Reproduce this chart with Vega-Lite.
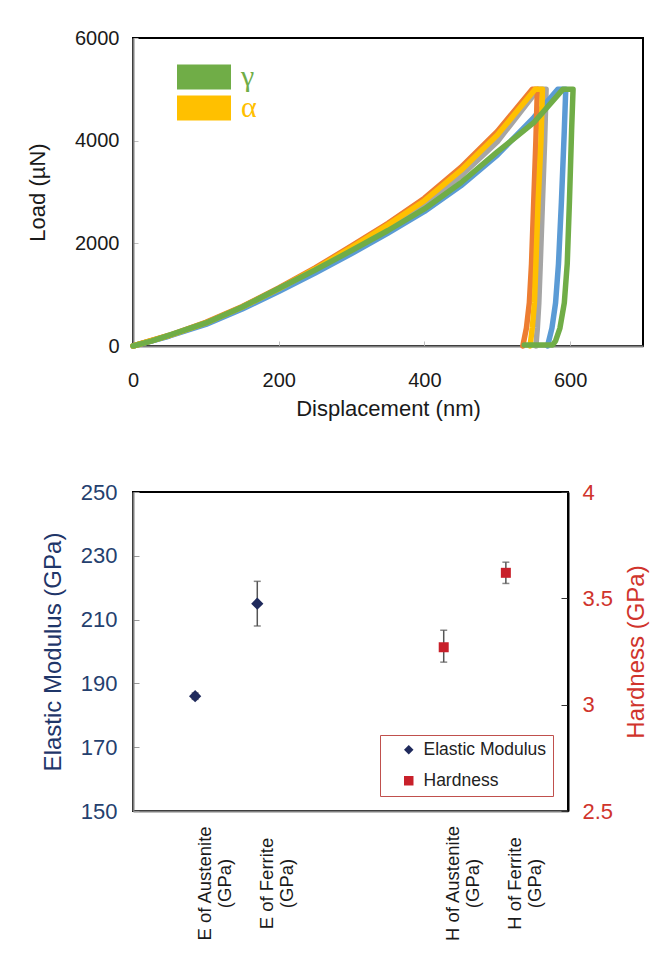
{
  "$schema": "https://vega.github.io/schema/vega-lite/v6.json",
  "padding": {"left": 25, "top": 27, "right": 0, "bottom": 0},
  "background": "white",
  "config": {
    "font": "Liberation Sans",
    "view": {"stroke": "#000", "strokeWidth": 2},
    "axis": {"grid": false, "labelColor": "#1a1a1a", "titleColor": "#1a1a1a", "titleFontWeight": "normal"}
  },
  "columns": 1,
  "align": "none",
  "spacing": 60,
  "resolve": {"scale": {"color": "independent", "shape": "independent"}, "legend": {"color": "independent", "shape": "independent"}},
  "datasets": {
    "curves": [
      {"s": "α3", "i": 0, "d": 0, "p": 0}, {"s": "α3", "i": 1, "d": 50, "p": 200}, {"s": "α3", "i": 2, "d": 100, "p": 440}, {"s": "α3", "i": 3, "d": 150, "p": 745}, {"s": "α3", "i": 4, "d": 200, "p": 1095}, {"s": "α3", "i": 5, "d": 250, "p": 1470}, {"s": "α3", "i": 6, "d": 300, "p": 1880}, {"s": "α3", "i": 7, "d": 350, "p": 2300}, {"s": "α3", "i": 8, "d": 400, "p": 2750}, {"s": "α3", "i": 9, "d": 450, "p": 3310}, {"s": "α3", "i": 10, "d": 500, "p": 3980}, {"s": "α3", "i": 11, "d": 556, "p": 5000}, {"s": "α3", "i": 12, "d": 567, "p": 5000}, {"s": "α3", "i": 13, "d": 565, "p": 4000}, {"s": "α3", "i": 14, "d": 562, "p": 2800}, {"s": "α3", "i": 15, "d": 559, "p": 1600}, {"s": "α3", "i": 16, "d": 557, "p": 840}, {"s": "α3", "i": 17, "d": 555, "p": 350}, {"s": "α3", "i": 18, "d": 553, "p": 0},
      {"s": "γ2", "i": 0, "d": 0, "p": 0}, {"s": "γ2", "i": 1, "d": 50, "p": 195}, {"s": "γ2", "i": 2, "d": 100, "p": 420}, {"s": "γ2", "i": 3, "d": 150, "p": 720}, {"s": "γ2", "i": 4, "d": 200, "p": 1060}, {"s": "γ2", "i": 5, "d": 250, "p": 1420}, {"s": "γ2", "i": 6, "d": 300, "p": 1800}, {"s": "γ2", "i": 7, "d": 350, "p": 2200}, {"s": "γ2", "i": 8, "d": 400, "p": 2620}, {"s": "γ2", "i": 9, "d": 450, "p": 3120}, {"s": "γ2", "i": 10, "d": 500, "p": 3720}, {"s": "γ2", "i": 11, "d": 550, "p": 4450}, {"s": "γ2", "i": 12, "d": 583, "p": 5000}, {"s": "γ2", "i": 13, "d": 594, "p": 5000}, {"s": "γ2", "i": 14, "d": 592, "p": 4200}, {"s": "γ2", "i": 15, "d": 588, "p": 2800}, {"s": "γ2", "i": 16, "d": 584, "p": 1600}, {"s": "γ2", "i": 17, "d": 580, "p": 840}, {"s": "γ2", "i": 18, "d": 575, "p": 350}, {"s": "γ2", "i": 19, "d": 569, "p": 0},
      {"s": "α2", "i": 0, "d": 0, "p": 0}, {"s": "α2", "i": 1, "d": 50, "p": 210}, {"s": "α2", "i": 2, "d": 100, "p": 460}, {"s": "α2", "i": 3, "d": 150, "p": 770}, {"s": "α2", "i": 4, "d": 200, "p": 1130}, {"s": "α2", "i": 5, "d": 250, "p": 1520}, {"s": "α2", "i": 6, "d": 300, "p": 1950}, {"s": "α2", "i": 7, "d": 350, "p": 2390}, {"s": "α2", "i": 8, "d": 400, "p": 2880}, {"s": "α2", "i": 9, "d": 450, "p": 3480}, {"s": "α2", "i": 10, "d": 500, "p": 4180}, {"s": "α2", "i": 11, "d": 548, "p": 5000}, {"s": "α2", "i": 12, "d": 555, "p": 5000}, {"s": "α2", "i": 13, "d": 553, "p": 4000}, {"s": "α2", "i": 14, "d": 550, "p": 2800}, {"s": "α2", "i": 15, "d": 547, "p": 1600}, {"s": "α2", "i": 16, "d": 544, "p": 840}, {"s": "α2", "i": 17, "d": 540, "p": 350}, {"s": "α2", "i": 18, "d": 535, "p": 0},
      {"s": "α", "i": 0, "d": 0, "p": 0}, {"s": "α", "i": 1, "d": 50, "p": 205}, {"s": "α", "i": 2, "d": 100, "p": 450}, {"s": "α", "i": 3, "d": 150, "p": 760}, {"s": "α", "i": 4, "d": 200, "p": 1115}, {"s": "α", "i": 5, "d": 250, "p": 1500}, {"s": "α", "i": 6, "d": 300, "p": 1920}, {"s": "α", "i": 7, "d": 350, "p": 2360}, {"s": "α", "i": 8, "d": 400, "p": 2830}, {"s": "α", "i": 9, "d": 450, "p": 3420}, {"s": "α", "i": 10, "d": 500, "p": 4110}, {"s": "α", "i": 11, "d": 552, "p": 5000}, {"s": "α", "i": 12, "d": 562, "p": 5000}, {"s": "α", "i": 13, "d": 560, "p": 4000}, {"s": "α", "i": 14, "d": 556, "p": 2800}, {"s": "α", "i": 15, "d": 553, "p": 1600}, {"s": "α", "i": 16, "d": 551, "p": 840}, {"s": "α", "i": 17, "d": 548, "p": 350}, {"s": "α", "i": 18, "d": 545, "p": 0},
      {"s": "γ", "i": 0, "d": 0, "p": 0}, {"s": "γ", "i": 1, "d": 25, "p": 95}, {"s": "γ", "i": 2, "d": 50, "p": 210}, {"s": "γ", "i": 3, "d": 100, "p": 450}, {"s": "γ", "i": 4, "d": 150, "p": 760}, {"s": "γ", "i": 5, "d": 200, "p": 1120}, {"s": "γ", "i": 6, "d": 250, "p": 1480}, {"s": "γ", "i": 7, "d": 300, "p": 1860}, {"s": "γ", "i": 8, "d": 350, "p": 2250}, {"s": "γ", "i": 9, "d": 400, "p": 2670}, {"s": "γ", "i": 10, "d": 450, "p": 3180}, {"s": "γ", "i": 11, "d": 500, "p": 3780}, {"s": "γ", "i": 12, "d": 550, "p": 4350}, {"s": "γ", "i": 13, "d": 590, "p": 5000}, {"s": "γ", "i": 14, "d": 604, "p": 5000}, {"s": "γ", "i": 15, "d": 602, "p": 4200}, {"s": "γ", "i": 16, "d": 599, "p": 2800}, {"s": "γ", "i": 17, "d": 596, "p": 1600}, {"s": "γ", "i": 18, "d": 592, "p": 840}, {"s": "γ", "i": 19, "d": 586, "p": 350}, {"s": "γ", "i": 20, "d": 580, "p": 100}, {"s": "γ", "i": 21, "d": 576, "p": 20}, {"s": "γ", "i": 22, "d": 537, "p": 20}
    ],
    "modulus": [
      {"c": "E of Austenite (GPa)", "m": "Elastic Modulus", "v": 186, "lo": 185, "hi": 187},
      {"c": "E of Ferrite (GPa)", "m": "Elastic Modulus", "v": 215, "lo": 208, "hi": 222}
    ],
    "hardness": [
      {"c": "H of Austenite (GPa)", "m": "Hardness", "v": 3.27, "lo": 3.2, "hi": 3.35},
      {"c": "H of Ferrite (GPa)", "m": "Hardness", "v": 3.62, "lo": 3.57, "hi": 3.67}
    ]
  },
  "concat": [
    {
      "width": 510,
      "height": 308,
      "data": {"name": "curves"},
      "mark": {"type": "line", "strokeWidth": 5.5, "strokeJoin": "round", "strokeCap": "round"},
      "encoding": {
        "x": {
          "field": "d", "type": "quantitative",
          "scale": {"domain": [0, 700], "nice": false, "zero": false},
          "axis": {"title": "Displacement (nm)", "values": [0, 200, 400, 600], "format": "d", "labelFlush": false, "labelFontSize": 20, "labelPadding": 29, "tickSize": -5, "tickColor": "#c0c0c0", "domainColor": "#7f7f7f", "domainWidth": 2, "titleFontSize": 22, "titlePadding": 8}
        },
        "y": {
          "field": "p", "type": "quantitative",
          "scale": {"domain": [0, 6000], "nice": false},
          "axis": {"title": "Load (µN)", "values": [0, 2000, 4000, 6000], "format": "d", "labelFlush": false, "labelFontSize": 20, "labelPadding": 19, "tickSize": -5, "tickColor": "#c0c0c0", "domainColor": "#7f7f7f", "domainWidth": 2, "titleFontSize": 22, "titlePadding": 25}
        },
        "color": {
          "field": "s", "type": "nominal",
          "scale": {"domain": ["γ", "α", "α2", "α3", "γ2"], "range": ["#70ad47", "#ffc000", "#ed7d31", "#a5a5a5", "#5b9bd5"]},
          "legend": {
            "orient": "none", "legendX": 56, "legendY": 24, "values": ["γ", "α"], "title": null,
            "symbolType": "M-2.16,-1L2.16,-1L2.16,1L-2.16,1Z", "symbolSize": 625, "symbolStrokeWidth": 0,
            "labelFont": "Liberation Serif", "labelFontSize": 30, "labelOffset": 22, "rowPadding": 1, "padding": 0,
            "encode": {
              "symbols": {"update": {"fill": [{"test": "datum.value === 'γ'", "value": "#70ad47"}, {"value": "#ffc000"}], "stroke": {"value": "transparent"}, "opacity": {"value": 1}}},
              "labels": {"update": {"fill": [{"test": "datum.value === 'γ'", "value": "#70ad47"}, {"value": "#ffc000"}]}}
            }
          }
        },
        "order": {"field": "i", "type": "quantitative"}
      }
    },
    {
      "width": 435,
      "height": 319,
      "encoding": {
        "x": {
          "field": "c", "type": "nominal",
          "scale": {"type": "point", "padding": 0, "domain": ["g0", "E of Austenite (GPa)", "E of Ferrite (GPa)", "g3", "g4", "H of Austenite (GPa)", "H of Ferrite (GPa)", "g7"]},
          "axis": {
            "title": null, "values": ["E of Austenite (GPa)", "E of Ferrite (GPa)", "H of Austenite (GPa)", "H of Ferrite (GPa)"],
            "labelExpr": "[slice(datum.label, 0, indexof(datum.label, ' (')), slice(datum.label, indexof(datum.label, ' (') + 1)]",
            "labelAngle": 270, "labelAlign": "center", "labelBaseline": "top", "labelPadding": 72, "labelLineHeight": 20,
            "labelFontSize": 18.5, "labelOverlap": false, "labelBound": false, "labelFlush": false,
            "ticks": false, "domainColor": "#7f7f7f", "domainWidth": 2
          }
        }
      },
      "layer": [
        {
          "data": {"name": "modulus"},
          "layer": [
            {"mark": {"type": "rule", "color": "#555", "strokeWidth": 1.5}, "encoding": {"y": {"field": "lo", "type": "quantitative", "scale": {"domain": [150, 250], "nice": false},
                  "axis": {"title": "Elastic Modulus (GPa)", "values": [150, 170, 190, 210, 230, 250], "labelFontSize": 22, "labelColor": "#24406e", "labelPadding": 22, "labelFlush": false, "tickSize": -6, "tickColor": "#999", "domainColor": "#7f7f7f", "domainWidth": 2, "titleFontSize": 24, "titleColor": "#1f3669", "titlePadding": 15}}, "y2": {"field": "hi"}}},
            {"mark": {"type": "tick", "color": "#555", "size": 7, "thickness": 1.5}, "encoding": {"y": {"field": "lo", "type": "quantitative", "scale": {"domain": [150, 250], "nice": false},
                  "axis": {"title": "Elastic Modulus (GPa)", "values": [150, 170, 190, 210, 230, 250], "labelFontSize": 22, "labelColor": "#24406e", "labelPadding": 22, "labelFlush": false, "tickSize": -6, "tickColor": "#999", "domainColor": "#7f7f7f", "domainWidth": 2, "titleFontSize": 24, "titleColor": "#1f3669", "titlePadding": 15}}}},
            {"mark": {"type": "tick", "color": "#555", "size": 7, "thickness": 1.5}, "encoding": {"y": {"field": "hi", "type": "quantitative", "scale": {"domain": [150, 250], "nice": false},
                  "axis": {"title": "Elastic Modulus (GPa)", "values": [150, 170, 190, 210, 230, 250], "labelFontSize": 22, "labelColor": "#24406e", "labelPadding": 22, "labelFlush": false, "tickSize": -6, "tickColor": "#999", "domainColor": "#7f7f7f", "domainWidth": 2, "titleFontSize": 24, "titleColor": "#1f3669", "titlePadding": 15}}}},
            {
              "mark": {"type": "point", "filled": true, "size": 150, "opacity": 1},
              "encoding": {
                "y": {"field": "v", "type": "quantitative", "scale": {"domain": [150, 250], "nice": false},
                  "axis": {"title": "Elastic Modulus (GPa)", "values": [150, 170, 190, 210, 230, 250], "labelFontSize": 22, "labelColor": "#24406e", "labelPadding": 22, "labelFlush": false, "tickSize": -6, "tickColor": "#999", "domainColor": "#7f7f7f", "domainWidth": 2, "titleFontSize": 24, "titleColor": "#1f3669", "titlePadding": 15}},
                "color": {"field": "m", "type": "nominal", "scale": {"domain": ["Elastic Modulus", "Hardness"], "range": ["#1f2a5c", "#c8202a"]},
                  "legend": {"orient": "bottom-right", "offset": 15, "padding": 6, "symbolOffset": 14, "strokeColor": "#c0504d", "fillColor": "white", "title": null, "labelFontSize": 17.5, "labelColor": "#222", "symbolSize": 90, "rowPadding": 12, "labelOffset": 6, "symbolOpacity": 1}},
                "shape": {"field": "m", "type": "nominal", "scale": {"domain": ["Elastic Modulus", "Hardness"], "range": ["diamond", "square"]},
                  "legend": {"orient": "bottom-right", "offset": 15, "padding": 6, "symbolOffset": 14, "strokeColor": "#c0504d", "fillColor": "white", "title": null, "labelFontSize": 17.5, "labelColor": "#222", "symbolSize": 90, "rowPadding": 12, "labelOffset": 6, "symbolOpacity": 1}}
              }
            }
          ]
        },
        {
          "data": {"name": "hardness"},
          "layer": [
            {"mark": {"type": "rule", "color": "#555", "strokeWidth": 1.5}, "encoding": {"y": {"field": "lo", "type": "quantitative", "scale": {"domain": [2.5, 4], "nice": false},
                  "axis": {"orient": "right", "title": "Hardness (GPa)", "values": [2.5, 3, 3.5, 4], "format": "~g", "labelFontSize": 22, "labelColor": "#d0342c", "labelPadding": 21, "labelFlush": false, "tickSize": -7, "tickColor": "#333", "domainColor": "#000", "domainWidth": 2, "titleFontSize": 24, "titleColor": "#d0342c", "titlePadding": 12, "titleAngle": 270, "titleBaseline": "top"}}, "y2": {"field": "hi"}}},
            {"mark": {"type": "tick", "color": "#555", "size": 7, "thickness": 1.5}, "encoding": {"y": {"field": "lo", "type": "quantitative", "scale": {"domain": [2.5, 4], "nice": false},
                  "axis": {"orient": "right", "title": "Hardness (GPa)", "values": [2.5, 3, 3.5, 4], "format": "~g", "labelFontSize": 22, "labelColor": "#d0342c", "labelPadding": 21, "labelFlush": false, "tickSize": -7, "tickColor": "#333", "domainColor": "#000", "domainWidth": 2, "titleFontSize": 24, "titleColor": "#d0342c", "titlePadding": 12, "titleAngle": 270, "titleBaseline": "top"}}}},
            {"mark": {"type": "tick", "color": "#555", "size": 7, "thickness": 1.5}, "encoding": {"y": {"field": "hi", "type": "quantitative", "scale": {"domain": [2.5, 4], "nice": false},
                  "axis": {"orient": "right", "title": "Hardness (GPa)", "values": [2.5, 3, 3.5, 4], "format": "~g", "labelFontSize": 22, "labelColor": "#d0342c", "labelPadding": 21, "labelFlush": false, "tickSize": -7, "tickColor": "#333", "domainColor": "#000", "domainWidth": 2, "titleFontSize": 24, "titleColor": "#d0342c", "titlePadding": 12, "titleAngle": 270, "titleBaseline": "top"}}}},
            {
              "mark": {"type": "point", "filled": true, "size": 100, "opacity": 1},
              "encoding": {
                "y": {"field": "v", "type": "quantitative", "scale": {"domain": [2.5, 4], "nice": false},
                  "axis": {"orient": "right", "title": "Hardness (GPa)", "values": [2.5, 3, 3.5, 4], "format": "~g", "labelFontSize": 22, "labelColor": "#d0342c", "labelPadding": 21, "labelFlush": false, "tickSize": -7, "tickColor": "#333", "domainColor": "#000", "domainWidth": 2, "titleFontSize": 24, "titleColor": "#d0342c", "titlePadding": 12, "titleAngle": 270, "titleBaseline": "top"}},
                "color": {"field": "m", "type": "nominal", "scale": {"domain": ["Elastic Modulus", "Hardness"], "range": ["#1f2a5c", "#c8202a"]},
                  "legend": {"orient": "bottom-right", "offset": 15, "padding": 6, "symbolOffset": 14, "strokeColor": "#c0504d", "fillColor": "white", "title": null, "labelFontSize": 17.5, "labelColor": "#222", "symbolSize": 90, "rowPadding": 12, "labelOffset": 6, "symbolOpacity": 1}},
                "shape": {"field": "m", "type": "nominal", "scale": {"domain": ["Elastic Modulus", "Hardness"], "range": ["diamond", "square"]},
                  "legend": {"orient": "bottom-right", "offset": 15, "padding": 6, "symbolOffset": 14, "strokeColor": "#c0504d", "fillColor": "white", "title": null, "labelFontSize": 17.5, "labelColor": "#222", "symbolSize": 90, "rowPadding": 12, "labelOffset": 6, "symbolOpacity": 1}}
              }
            }
          ]
        }
      ],
      "resolve": {"scale": {"y": "independent"}}
    }
  ]
}
